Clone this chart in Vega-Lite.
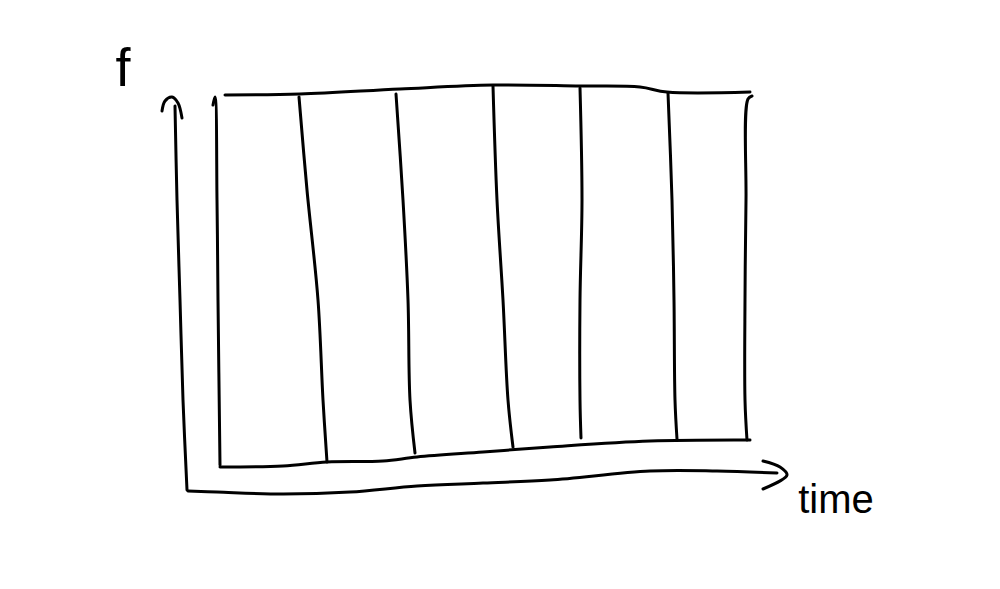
{
  "$schema": "https://vega.github.io/schema/vega-lite/v6.json",
  "autosize": {"type": "fit", "contains": "padding"},
  "width": 1000,
  "height": 589,
  "padding": 0,
  "background": "white",
  "config": {"view": {"stroke": null}},
  "datasets": {
    "strokes": [
      {"s": "yaxis", "i": 1, "x": 175, "y": 106},
      {"s": "yaxis", "i": 2, "x": 177, "y": 200},
      {"s": "yaxis", "i": 3, "x": 180, "y": 300},
      {"s": "yaxis", "i": 4, "x": 183, "y": 400},
      {"s": "yaxis", "i": 5, "x": 187, "y": 490},
      {"s": "yhead", "i": 1, "x": 162, "y": 111},
      {"s": "yhead", "i": 2, "x": 165, "y": 101},
      {"s": "yhead", "i": 3, "x": 172, "y": 97},
      {"s": "yhead", "i": 4, "x": 178, "y": 103},
      {"s": "yhead", "i": 5, "x": 182, "y": 118},
      {"s": "xaxis", "i": 1, "x": 188, "y": 491},
      {"s": "xaxis", "i": 2, "x": 217, "y": 492},
      {"s": "xaxis", "i": 3, "x": 283, "y": 494},
      {"s": "xaxis", "i": 4, "x": 350, "y": 492},
      {"s": "xaxis", "i": 5, "x": 417, "y": 486},
      {"s": "xaxis", "i": 6, "x": 483, "y": 483},
      {"s": "xaxis", "i": 7, "x": 550, "y": 480},
      {"s": "xaxis", "i": 8, "x": 650, "y": 471},
      {"s": "xaxis", "i": 9, "x": 717, "y": 471},
      {"s": "xaxis", "i": 10, "x": 777, "y": 473},
      {"s": "xhead", "i": 1, "x": 763, "y": 461},
      {"s": "xhead", "i": 2, "x": 780, "y": 467},
      {"s": "xhead", "i": 3, "x": 787, "y": 475},
      {"s": "xhead", "i": 4, "x": 763, "y": 489},
      {"s": "top", "i": 1, "x": 225, "y": 95},
      {"s": "top", "i": 2, "x": 300, "y": 94},
      {"s": "top", "i": 3, "x": 400, "y": 89},
      {"s": "top", "i": 4, "x": 493, "y": 85},
      {"s": "top", "i": 5, "x": 580, "y": 86},
      {"s": "top", "i": 6, "x": 640, "y": 87},
      {"s": "top", "i": 7, "x": 667, "y": 92},
      {"s": "top", "i": 8, "x": 750, "y": 92},
      {"s": "left", "i": 1, "x": 213, "y": 105},
      {"s": "left", "i": 2, "x": 215, "y": 97},
      {"s": "left", "i": 3, "x": 217, "y": 200},
      {"s": "left", "i": 4, "x": 218, "y": 300},
      {"s": "left", "i": 5, "x": 220, "y": 465},
      {"s": "bottom", "i": 1, "x": 220, "y": 467},
      {"s": "bottom", "i": 2, "x": 283, "y": 466},
      {"s": "bottom", "i": 3, "x": 327, "y": 462},
      {"s": "bottom", "i": 4, "x": 383, "y": 461},
      {"s": "bottom", "i": 5, "x": 417, "y": 457},
      {"s": "bottom", "i": 6, "x": 483, "y": 452},
      {"s": "bottom", "i": 7, "x": 550, "y": 447},
      {"s": "bottom", "i": 8, "x": 650, "y": 441},
      {"s": "bottom", "i": 9, "x": 750, "y": 440},
      {"s": "right", "i": 1, "x": 752, "y": 96},
      {"s": "right", "i": 2, "x": 748, "y": 99},
      {"s": "right", "i": 3, "x": 746, "y": 200},
      {"s": "right", "i": 4, "x": 745, "y": 300},
      {"s": "right", "i": 5, "x": 745, "y": 400},
      {"s": "right", "i": 6, "x": 747, "y": 440},
      {"s": "v1", "i": 1, "x": 299, "y": 97},
      {"s": "v1", "i": 2, "x": 307, "y": 190},
      {"s": "v1", "i": 3, "x": 318, "y": 300},
      {"s": "v1", "i": 4, "x": 323, "y": 400},
      {"s": "v1", "i": 5, "x": 327, "y": 462},
      {"s": "v2", "i": 1, "x": 396, "y": 94},
      {"s": "v2", "i": 2, "x": 403, "y": 200},
      {"s": "v2", "i": 3, "x": 408, "y": 300},
      {"s": "v2", "i": 4, "x": 410, "y": 400},
      {"s": "v2", "i": 5, "x": 415, "y": 453},
      {"s": "v3", "i": 1, "x": 493, "y": 86},
      {"s": "v3", "i": 2, "x": 497, "y": 200},
      {"s": "v3", "i": 3, "x": 503, "y": 300},
      {"s": "v3", "i": 4, "x": 508, "y": 400},
      {"s": "v3", "i": 5, "x": 513, "y": 447},
      {"s": "v4", "i": 1, "x": 580, "y": 88},
      {"s": "v4", "i": 2, "x": 582, "y": 200},
      {"s": "v4", "i": 3, "x": 580, "y": 300},
      {"s": "v4", "i": 4, "x": 580, "y": 400},
      {"s": "v4", "i": 5, "x": 581, "y": 438},
      {"s": "v5", "i": 1, "x": 668, "y": 93},
      {"s": "v5", "i": 2, "x": 672, "y": 200},
      {"s": "v5", "i": 3, "x": 674, "y": 300},
      {"s": "v5", "i": 4, "x": 675, "y": 400},
      {"s": "v5", "i": 5, "x": 677, "y": 439}
    ],
    "labels": [
      {"text": "f", "x": 123, "y": 86, "size": 54},
      {"text": "time", "x": 836, "y": 513, "size": 40}
    ]
  },
  "layer": [
    {
      "data": {"name": "strokes"},
      "mark": {"type": "line", "color": "black", "strokeWidth": 3, "strokeCap": "round", "strokeJoin": "round", "interpolate": "catmull-rom"},
      "encoding": {
        "x": {"field": "x", "type": "quantitative", "scale": {"domain": [0, 1000]}, "axis": null},
        "y": {"field": "y", "type": "quantitative", "scale": {"domain": [0, 589], "reverse": true}, "axis": null},
        "detail": {"field": "s"},
        "order": {"field": "i"}
      }
    },
    {
      "data": {"name": "labels"},
      "mark": {"type": "text", "color": "black", "font": "Liberation Sans", "baseline": "alphabetic", "align": "center"},
      "encoding": {
        "x": {"field": "x", "type": "quantitative", "scale": {"domain": [0, 1000]}, "axis": null},
        "y": {"field": "y", "type": "quantitative", "scale": {"domain": [0, 589], "reverse": true}, "axis": null},
        "text": {"field": "text"},
        "size": {"field": "size", "type": "quantitative", "scale": null}
      }
    }
  ]
}
